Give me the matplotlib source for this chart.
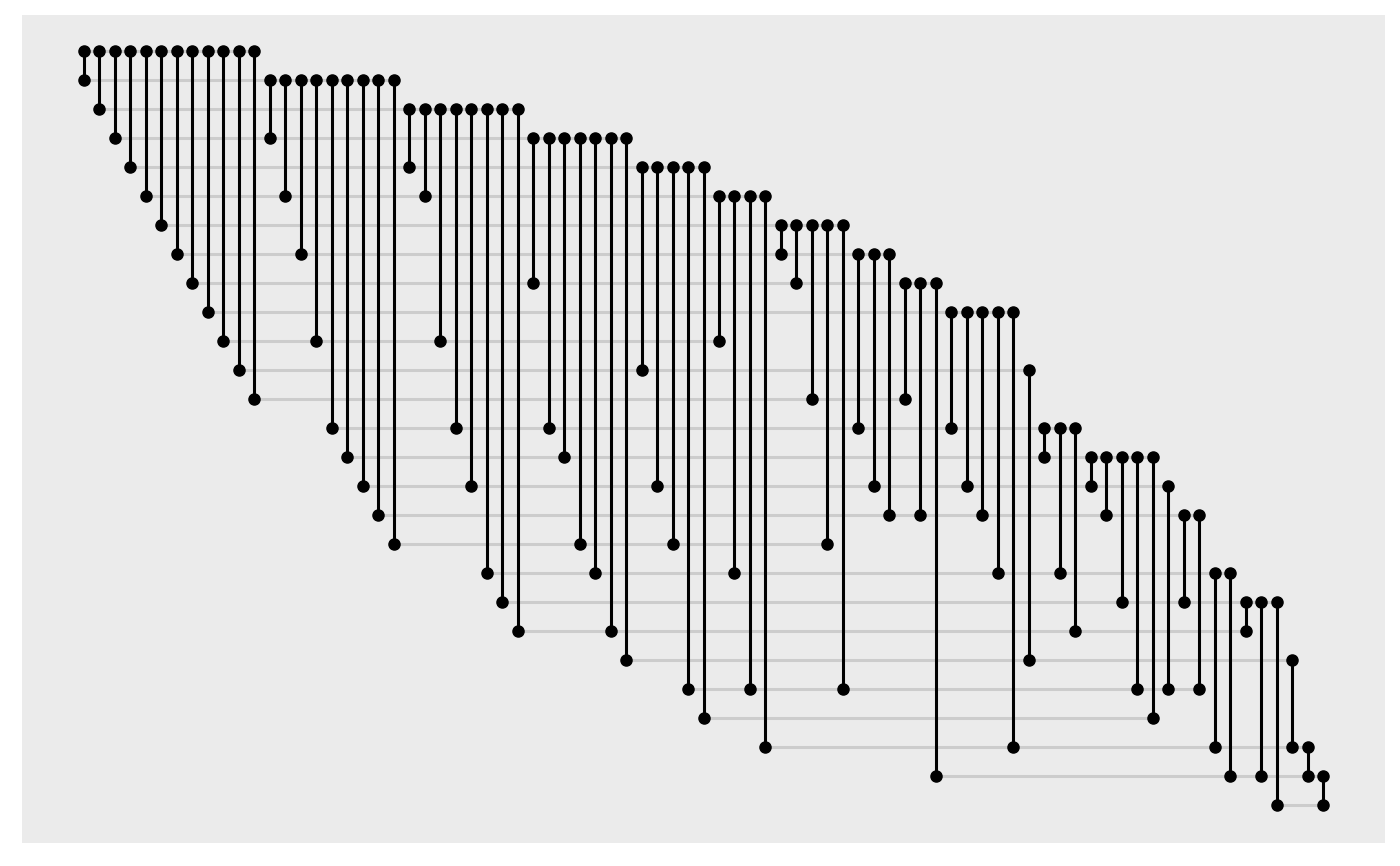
import matplotlib.pyplot as plt
import numpy as np

# one entry per column: row of the top dot and row of the bottom dot
parent = [0] * 12 + [1] * 9 + [2] * 8 + [3] * 7 + [4] * 5 + [5] * 4 + [6] * 5 \
    + [7] * 3 + [8] * 3 + [9] * 5 + [11] + [13] * 3 + [14] * 5 + [15] \
    + [16] * 2 + [18] * 2 + [19] * 3 + [21] + [24] + [25]
child = [1, 2, 3, 4, 5, 6, 7, 8, 9, 10, 11, 12,
         3, 5, 7, 10, 13, 14, 15, 16, 17,
         4, 5, 10, 13, 15, 18, 19, 20,
         8, 13, 14, 17, 18, 20, 21,
         11, 15, 17, 22, 23,
         10, 18, 22, 24,
         7, 8, 12, 17, 22,
         13, 15, 16,
         12, 16, 25,
         13, 15, 16, 18, 24,
         21,
         14, 18, 20,
         15, 16, 19, 22, 23,
         22,
         19, 22,
         24, 25,
         20, 25, 26,
         24,
         25,
         26]

parent = np.array(parent)
child = np.array(child)
cols = np.arange(len(parent))
n_rows = 27

fig = plt.figure(figsize=(14, 8.66), dpi=100)
ax = fig.add_axes([22 / 1400, 23 / 866, 1363 / 1400, 828 / 866])
ax.set_facecolor("#EBEBEB")

# grey row lines from first to last dot in each row
for r in range(n_rows):
    xs = np.concatenate([cols[parent == r], cols[child == r]])
    if len(xs):
        ax.plot([xs.min(), xs.max()], [r, r], color="#CCCCCC", lw=2.2,
                zorder=1, solid_capstyle="butt")

ax.vlines(cols, parent, child, color="black", lw=2.2, zorder=2)
ax.plot(cols, parent, "o", color="black", ms=8, zorder=3)
ax.plot(cols, child, "o", color="black", ms=8, zorder=3)

ax.set_xlim(-4.0, 84.0)
ax.set_ylim(27.31, -1.24)
ax.set_xticks([])
ax.set_yticks([])
for s in ax.spines.values():
    s.set_visible(False)

plt.savefig("out.png", dpi=100)
plt.close()
